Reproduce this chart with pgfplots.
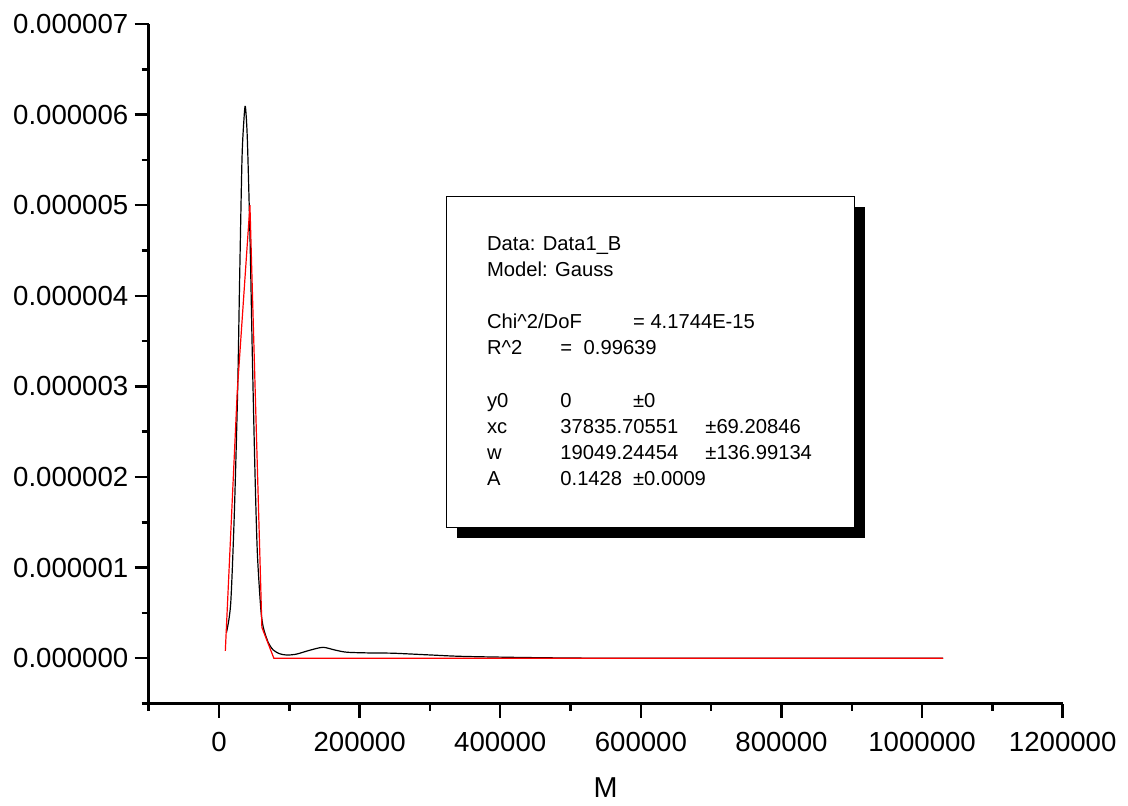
\documentclass[border=0pt]{standalone}
\usepackage{pgfplots}
\pgfplotsset{compat=1.18}
\usepackage{fontspec}
\setmainfont{Liberation Sans}
\begin{document}
\begin{tikzpicture}
\begin{axis}[
  name=ax,
  scale only axis,
  width=457pt, height=339.75pt,
  xmin=-100000, xmax=1200000,
  ymin=-0.0000005, ymax=0.000007,
  axis x line=bottom, axis y line=left,
  axis line style={-, line width=1.25pt},
  tick align=outside,
  major tick length=7pt, minor tick length=3.5pt,
  every tick/.style={line width=1.25pt, black},
  xtick={0,200000,400000,600000,800000,1000000,1200000},
  xticklabels={0,200000,400000,600000,800000,1000000,1200000},
  minor xtick={-100000,100000,300000,500000,700000,900000,1100000},
  ytick={0,0.000001,0.000002,0.000003,0.000004,0.000005,0.000006,0.000007},
  yticklabels={0.000000,0.000001,0.000002,0.000003,0.000004,0.000005,0.000006,0.000007},
  minor ytick={-0.0000005,0.0000005,0.0000015,0.0000025,0.0000035,0.0000045,0.0000055,0.0000065},
  scaled x ticks=false, scaled y ticks=false,
  tick label style={font=\fontsize{13.8}{16}\selectfont, inner sep=0pt},
  yticklabel style={anchor=east, xshift=-3pt},
  xticklabel style={anchor=north, yshift=-7.3pt},
  xlabel={M},
  xlabel style={font=\fontsize{14.4}{17}\selectfont, at={(axis description cs:0.5,0)}, anchor=base, yshift=-46.9pt, inner sep=0pt},
  clip=false,
]
\addplot[black, line width=0.6pt, smooth, tension=0.45] coordinates {
(10500,0.00000028) (16600,0.00000060) (21800,0.00000160) (26500,0.00000295)
(29400,0.00000421) (32700,0.00000551) (35500,0.00000595) (37500,0.00000609)
(40300,0.00000573) (44100,0.00000464) (47400,0.00000334) (51200,0.00000204)
(54500,0.00000117) (59300,0.00000056) (63000,0.00000034) (70200,0.00000017)
(77300,0.00000009) (86000,0.00000005) (96300,0.000000035) (110000,0.000000045)
(130000,0.00000009) (148000,0.00000012) (165000,0.00000009) (182000,0.000000066)
(215000,0.000000058) (248000,0.000000055) (300000,0.000000036) (347000,0.00000002)
(442000,0.000000007) (550000,0) (800000,0) (1030000,0)
};
\addplot[red, line width=0.6pt] coordinates {
(9000,0.00000008) (26000,0.00000295) (44000,0.0000050) (61000,0.00000034)
(78000,0) (1030000,0)
};
\end{axis}
\begin{scope}[shift={(ax.south west)}, x=0.5pt, y=-0.5pt, shift={(-148.7,-703.5)}]
\fill[black] (457,207) rectangle (865,538);
\filldraw[fill=white, draw=black, line width=0.5pt] (446,196) rectangle (854,527);
\begin{scope}[every node/.style={anchor=base west, inner sep=0pt, font=\fontsize{10.1}{12}\selectfont}]
\node at (486.7,250) {Data: Data1\_B};
\node at (486.7,276) {Model: Gauss};
\node at (486.7,328.3) {Chi\^{}2/DoF};
\node at (632.7,328.3) {= 4.1744E-15};
\node at (486.7,354.3) {R\^{}2};
\node at (560,354.3) {=};
\node at (583.3,354.3) {0.99639};
\node at (486.7,407.3) {y0};
\node at (560,407.3) {0};
\node at (632.7,407.3) {±0};
\node at (486.7,433.3) {xc};
\node at (560,433.3) {37835.70551};
\node at (705,433.3) {±69.20846};
\node at (486.7,459.3) {w};
\node at (560,459.3) {19049.24454};
\node at (705,459.3) {±136.99134};
\node at (486.7,485) {A};
\node at (560,485) {0.1428};
\node at (632.7,485) {±0.0009};
\end{scope}
\pgfresetboundingbox
\path (0,0) rectangle (1128,805);
\end{scope}
\end{tikzpicture}
\end{document}
